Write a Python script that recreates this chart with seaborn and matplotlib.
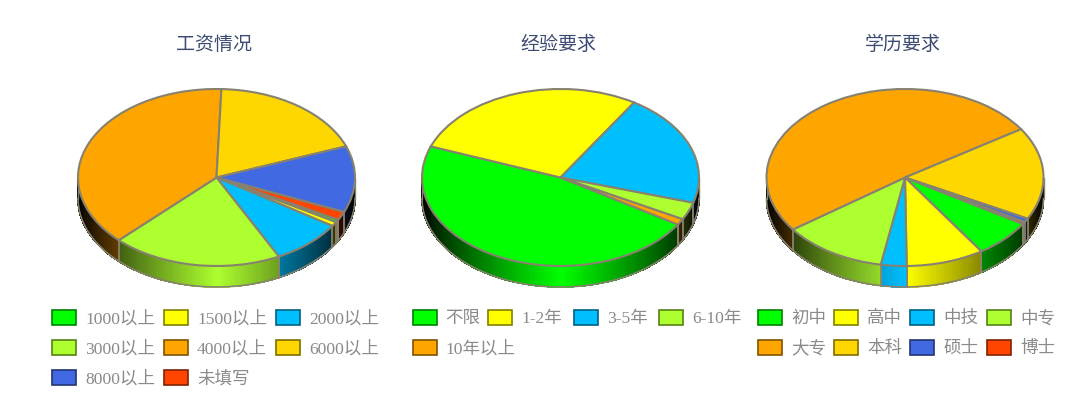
import numpy as np
import matplotlib
matplotlib.use('Agg')
import matplotlib.pyplot as plt
from matplotlib.patches import Rectangle
from matplotlib.transforms import IdentityTransform
import seaborn as sns

# colores de las porciones, en el orden de la leyenda
colores = ['#00FF00', '#FFFF00', '#00BFFF', '#ADFF2F', '#FFA500', '#FFD700', '#4169E1', '#FF4500']

titulo_1 = '工资情况'
labels_1 = ['1000以上', '1500以上', '2000以上', '3000以上', '4000以上', '6000以上', '8000以上', '未填写']
valores_1 = [0.5, 0.8, 8.35, 19.9, 38.1, 18.7, 12.1, 1.55]

titulo_2 = '经验要求'
labels_2 = ['不限', '1-2年', '3-5年', '6-10年', '10年以上']
valores_2 = [46.8, 28.2, 20.7, 3.2, 1.1]

titulo_3 = '学历要求'
labels_3 = ['初中', '高中', '中技', '中专', '大专', '本科', '硕士', '博士']
valores_3 = [6.9, 9.1, 3.0, 12.2, 50.8, 16.9, 0.7, 0.4]

W, H = 1080, 410
RX, RY, PROF = 138.5, 88.5, 21
CY = 178.5
GRIS = '#87826f'

sns.set_theme(style='white')
plt.rcParams['font.family'] = ['Liberation Serif', 'Noto Sans CJK SC']

fig = plt.figure(figsize=(W / 100, H / 100), dpi=100, facecolor='white')


def px(v):
    return v * 72 / 100


def sombra(color, f):
    return tuple(c * f for c in matplotlib.colors.to_rgb(color))


def dibujar_pie(cx, inicio, valores, titulo, titulo_x):
    pad = 0.1
    prof = PROF / RY
    ax = fig.add_axes([(cx - RX * (1 + pad)) / W,
                       1 - (CY + RY * (1 + prof + pad)) / H,
                       2 * RX * (1 + pad) / W,
                       RY * (2 + prof + 2 * pad) / H])
    pal = sns.color_palette(colores, len(valores))
    ax.pie(valores, colors=pal, startangle=inicio, counterclock=False,
           wedgeprops=dict(edgecolor=GRIS, linewidth=1.5, zorder=3))
    ax.set_aspect('auto')
    ax.set_xlim(-1 - pad, 1 + pad)
    ax.set_ylim(-1 - prof - pad, 1 + pad)
    ax.axis('off')

    # pared lateral: tiras con degradado horizontal
    v = np.array(valores, dtype=float)
    bordes = inicio - np.concatenate([[0], np.cumsum(v)]) / v.sum() * 360
    for i in range(len(v)):
        th = np.radians(np.arange(bordes[i], bordes[i + 1], -0.5).tolist() + [bordes[i + 1]])
        for a, b in zip(th[:-1], th[1:]):
            m = (a + b) / 2
            if np.sin(m) > 0:
                continue
            f = (1 - abs(np.cos(m))) ** 0.8
            xs = [np.cos(a), np.cos(b), np.cos(b), np.cos(a)]
            ys = [np.sin(a), np.sin(b), np.sin(b) - prof, np.sin(a) - prof]
            c = sombra(pal[i], f)
            ax.fill(xs, ys, facecolor=c, edgecolor=c, linewidth=0.6, antialiased=False, zorder=1)
    # contorno de la pared
    t = np.radians(np.linspace(180, 360, 200))
    ax.plot(np.cos(t), np.sin(t) - prof, color=GRIS, lw=1.2, zorder=2)
    ax.plot([-1, -1], [0, -prof], color=GRIS, lw=1.0, zorder=2)
    ax.plot([1, 1], [0, -prof], color=GRIS, lw=1.0, zorder=2)
    for b in bordes:
        if np.sin(np.radians(b)) < 0:
            xb, yb = np.cos(np.radians(b)), np.sin(np.radians(b))
            ax.plot([xb, xb], [yb, yb - prof], color=GRIS, lw=1.3, zorder=2)

    fig.text(titulo_x / W, 1 - 44 / H, titulo, ha='center', va='center',
             fontsize=px(19), color='#3d4b73', family=['Noto Sans CJK SC', 'DejaVu Sans'])


def dibujar_leyenda(labels, xs_filas, filas_y, pal_n):
    pal = sns.color_palette(colores, pal_n)
    i = 0
    for fila, y in zip(xs_filas, filas_y):
        for x in fila:
            fig.add_artist(Rectangle((x, H - y - 7.5), 24, 15, transform=IdentityTransform(),
                                     facecolor=pal[i], edgecolor=sombra(pal[i], 0.5), linewidth=1.2))
            fig.text((x + 33) / W, 1 - (y + 1) / H, labels[i], ha='left', va='center',
                     fontsize=px(17.5), color='#8a8a8a')
            i += 1


dibujar_pie(216.5, -28.5, valores_1, titulo_1, 214)
dibujar_pie(560.5, -32.1, valores_2, titulo_2, 558)
dibujar_pie(905, -31.7, valores_3, titulo_3, 903)

dibujar_leyenda(labels_1, [[52, 164, 276], [52, 164, 276], [52, 164]], [318, 348, 378], 8)
dibujar_leyenda(labels_2, [[412.5, 488, 574, 659], [412.5]], [318, 348], 5)
dibujar_leyenda(labels_3, [[758, 834, 910, 987], [758, 834, 910, 987]], [318, 348], 8)

fig.savefig('out.png', dpi=100, facecolor='white')
